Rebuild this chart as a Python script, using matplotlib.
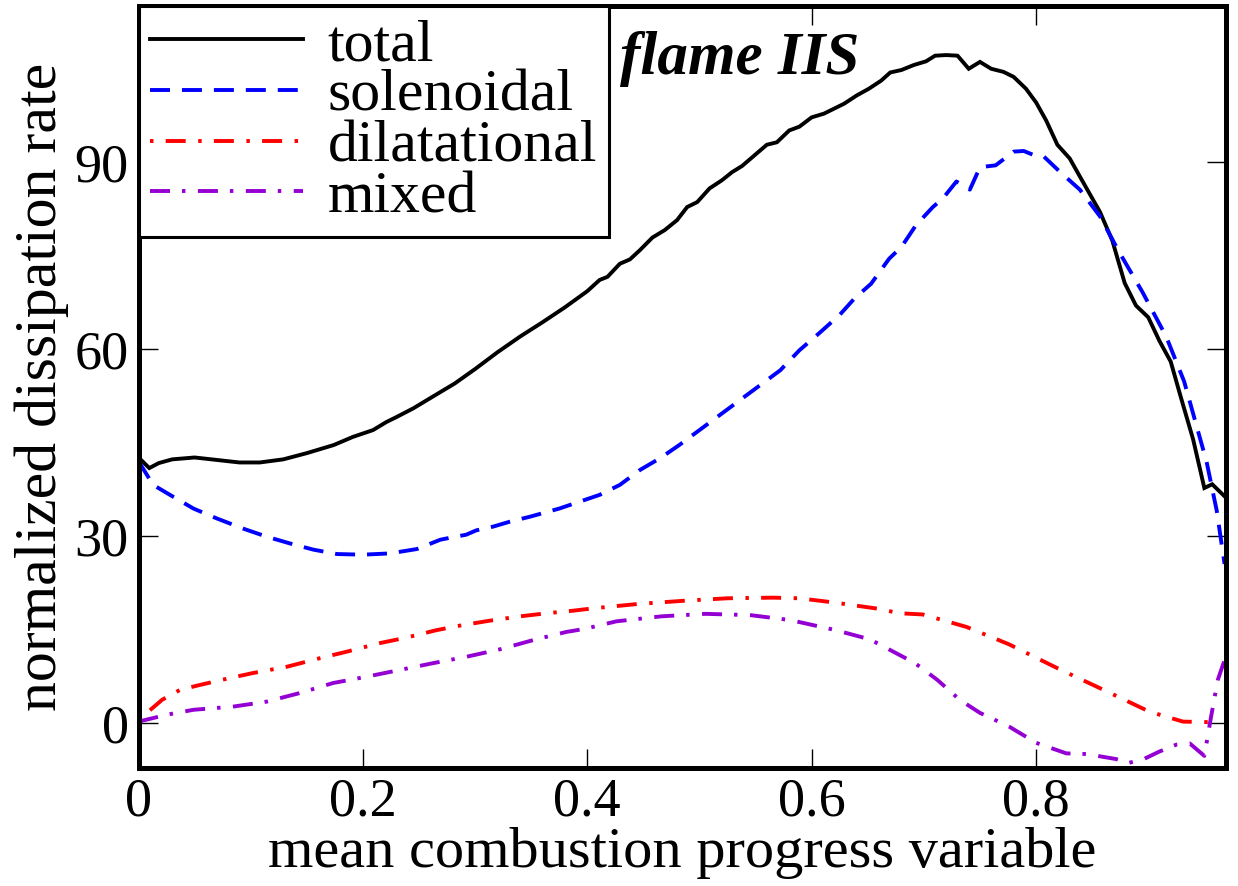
import matplotlib
matplotlib.use("Agg")
import matplotlib.pyplot as plt

plt.rcParams['font.family'] = ['Liberation Serif', 'DejaVu Serif']
plt.rcParams['lines.scale_dashes'] = False

# total dissipation
total_x = [0, .0096, .018, .030, .050, .070, .090, .108, .129, .150, .174, .191, .209, .221, .230, .245, .257,
           .282, .300, .320, .340, .360, .380, .400, .411, .418, .429, .438, .447, .458, .469, .480, .489, .498,
           .509, .520, .529, .538, .549, .560, .569, .580, .589, .600, .611, .620, .629, .640, .651, .662, .670,
           .680, .691, .702, .710, .720, .730, .740, .750, .760, .771, .780, .791, .800, .809, .819, .830, .840,
           .857, .868, .879, .889, .900, .910, .920, .929, .940, .950, .957, .969]
total_y = [42.6, 40.9, 41.7, 42.3, 42.6, 42.2, 41.8, 41.8, 42.3, 43.3, 44.6, 45.9, 47.0, 48.3, 49.1, 50.5, 51.8,
           54.5, 56.8, 59.5, 62.0, 64.3, 66.7, 69.3, 71.1, 71.6, 73.7, 74.4, 75.9, 77.9, 79.1, 80.7, 82.8, 83.6,
           85.8, 87.1, 88.4, 89.4, 91.1, 92.8, 93.2, 95.1, 95.7, 97.2, 97.8, 98.6, 99.4, 100.7, 101.8, 103.1, 104.4,
           104.8, 105.6, 106.2, 107.1, 107.2, 107.1, 105.0, 106.1, 105.0, 104.5, 103.7, 101.8, 99.6, 96.7, 92.8,
           90.6, 87.4, 82.0, 77.4, 70.6, 67.0, 65.1, 61.3, 58.0, 52.3, 45.5, 37.7, 38.3, 36.2]

# solenoidal part
sol_x = [0, .013, .028, .049, .070, .093, .114, .135, .156, .177, .200, .224, .248, .269, .280, .292, .301, .316,
         .331, .349, .375, .393, .411, .429, .447, .465, .482, .500, .518, .536, .554, .572, .589, .607, .625,
         .638, .653, .669, .680, .693, .708, .717, .729, .741, .750, .764, .780, .789, .800, .807, .821, .839,
         .857, .874, .895, .916, .932, .943, .952, .961, .968]
sol_y = [42.0, 38.2, 36.6, 34.4, 32.8, 31.2, 29.9, 28.8, 27.8, 27.1, 27.0, 27.2, 27.9, 29.4, 29.8, 30.2, 30.9, 31.5,
         32.3, 33.1, 34.4, 35.5, 36.6, 38.2, 40.6, 42.5, 44.6, 47.0, 49.4, 51.8, 54.2, 56.6, 59.8, 62.6, 65.5,
         68.1, 70.5, 74.5, 76.4, 79.9, 82.8, 84.2, 86.9, 85.6, 89.2, 89.5, 91.7, 91.8, 91.0, 90.9, 88.5, 85.6,
         81.3, 75.6, 69.1, 62.0, 54.8, 47.7, 41.9, 34.1, 25.5]

# dilatational part
dil_x = [0, .0087, .021, .037, .055, .0815, .102, .132, .162, .185, .215, .239, .266, .289, .313, .340, .364,
         .387, .406, .446, .486, .525, .565, .589, .621, .660, .678, .699, .738, .776, .821, .8625, .901, .931,
         .960]
dil_y = [0.3, 1.8, 3.7, 5.3, 6.1, 7.2, 8.0, 9.0, 10.4, 11.4, 12.8, 13.7, 14.9, 15.7, 16.4, 17.1, 17.6,
         18.0, 18.4, 19.1, 19.6, 20.0, 20.1, 20.0, 19.3, 18.3, 17.6, 17.4, 15.4, 12.6, 8.6, 5.1, 1.8, 0.2,
         0.1]

# mixed part
mix_x = [0, .025, .049, .084, .114, .144, .1735, .203, .233, .263, .292, .322, .352, .3815, .398, .426, .466,
         .5055, .545, .581, .621, .652, .692, .712, .732, .750, .776, .800, .827, .845, .871, .883, .895, .910,
         .925, .937, .950, .956, .962, .969]
mix_y = [0.2, 1.3, 2.1, 2.6, 3.4, 4.8, 6.4, 7.4, 8.5, 9.6, 10.6, 11.8, 13.3, 14.6, 15.1, 16.3, 17.1,
         17.5, 17.3, 16.5, 14.9, 13.4, 9.6, 6.9, 3.7, 1.6, -0.6, -3.2, -4.9, -5.0, -5.8, -6.4, -5.9, -4.6,
         -3.5, -3.3, -5.3, 1.0, 6.9, 10.6]

x_ticks = [0, 0.2, 0.4, 0.6, 0.8]
x_tick_labels = ["0", "0.2", "0.4", "0.6", "0.8"]
y_ticks = [0, 30, 60, 90]
y_tick_labels = ["0", "30", "60", "90"]

fig = plt.figure(figsize=(12.38, 8.86), dpi=100)
ax = fig.add_axes([0.1119, 0.1335, 0.8785, 0.8592])

lw = 2.8
ax.plot(total_x, total_y, color='black', lw=lw, label='total', solid_joinstyle='miter')
ax.plot(sol_x, sol_y, color='#0000ff', lw=lw, label='solenoidal',
        linestyle=(0, (14.4, 8.6)), dash_capstyle='butt')
ax.plot(dil_x, dil_y, color='#ff0000', lw=lw, label='dilatational',
        linestyle=(0, (2.5, 8.8, 14.4, 9.0)), dash_capstyle='butt')
ax.plot(mix_x, mix_y, color='#9400d3', lw=lw, label='mixed',
        linestyle=(0, (14.4, 8.6, 2.5, 9.0)), dash_capstyle='butt')

ax.set_xlim(0, 0.9694)
ax.set_ylim(-7.2, 115)
ax.set_xticks(x_ticks)
ax.set_xticklabels(x_tick_labels)
ax.set_yticks(y_ticks)
ax.set_yticklabels(y_tick_labels)

for s in ax.spines.values():
    s.set_linewidth(3.6)
ax.tick_params(which='both', direction='in', top=True, right=True, length=13.5, width=1.0,
               labelsize=39, pad=7)

ax.set_xlabel('mean combustion progress variable', fontsize=42, labelpad=-1)
ax.set_ylabel('normalized dissipation rate', fontsize=43, labelpad=4)

ax.text(0.429, 104.1, 'flame IIS', fontsize=44, fontweight='bold', fontstyle='italic',
        ha='left', va='baseline')

leg = ax.legend(loc='upper left', bbox_to_anchor=(0, 1), borderaxespad=0, fontsize=43,
                handlelength=2.55, handletextpad=0.42, borderpad=0.2, labelspacing=-0.07,
                fancybox=False, framealpha=1, edgecolor='black')
leg.get_frame().set_linewidth(2.2)

fig.savefig('out.png', dpi=100)
